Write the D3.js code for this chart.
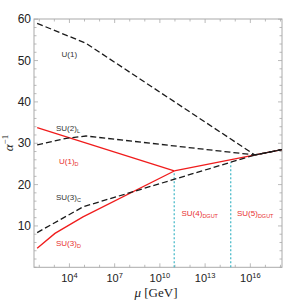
<!DOCTYPE html>
<html><head><meta charset="utf-8">
<script src="https://cdn.jsdelivr.net/npm/d3@7"></script>
<style>html,body{margin:0;padding:0;background:#fff;}svg{display:block;}</style>
</head><body>
<svg id="c" width="300" height="303"></svg>
<script>
// data: [log10(mu/GeV), alpha^-1]
const u1   = [[1.86,59.0],[5.09,54.2],[16.3,27.17],[18.09,28.45]];
const su2L = [[1.86,29.6],[3.0,30.55],[3.8,31.2],[5.1,31.75],[16.3,27.17],[18.09,28.45]];
const su3C = [[1.86,8.4],[4.92,14.65],[16.3,27.17],[18.09,28.45]];
const u1D  = [[1.86,33.8],[10.95,23.3]];
const su3D = [[1.86,4.6],[3.04,8.2],[4.9,12.2],[10.95,23.3]];
const su4D = [[10.95,23.3],[18.09,28.45]];
const thresholds = [[10.95,23.3],[14.7,25.4]];
const xMajor = [4,7,10,13,16];
const xMinor = d3.range(2,19);
const yMajor = [10,20,30,40,50,60];
const yMinor = d3.range(0,61,2);

const svg = d3.select("#c");
const L=34,R=282,T=19,B=267.3;
const x = d3.scaleLog().domain([Math.pow(10,1.65),Math.pow(10,18.1)]).range([L,R]);
const y = d3.scaleLinear().domain([0,60.05]).range([B,T]);
const X = e => x(Math.pow(10,e));
const line = d3.line().x(d=>X(d[0])).y(d=>y(d[1]));

// frame
svg.append("rect").attr("x",L).attr("y",T).attr("width",R-L).attr("height",B-T)
  .attr("fill","none").attr("stroke","#aaa").attr("stroke-width",1);
const tk = svg.append("g").attr("stroke","#aaa").attr("stroke-width",0.8);
xMinor.forEach(e=>{
  const len = xMajor.includes(e)?4:2.5;
  tk.append("line").attr("x1",X(e)).attr("x2",X(e)).attr("y1",B).attr("y2",B-len);
  tk.append("line").attr("x1",X(e)).attr("x2",X(e)).attr("y1",T).attr("y2",T+len);
});
yMinor.forEach(v=>{
  const len = yMajor.includes(v)?4:2.5;
  tk.append("line").attr("x1",L).attr("x2",L+len).attr("y1",y(v)).attr("y2",y(v));
  tk.append("line").attr("x1",R).attr("x2",R-len).attr("y1",y(v)).attr("y2",y(v));
});
// y tick labels
yMajor.forEach(v=>{
  svg.append("text").attr("x",31).attr("y",y(v)+4.2).attr("text-anchor","end")
    .attr("font-family","Liberation Sans, Arial, sans-serif").attr("font-size",12).attr("fill","#222").text(v);
});
// x tick labels
xMajor.forEach(e=>{
  const t = svg.append("text").attr("x",X(e)).attr("y",282).attr("text-anchor","middle")
    .attr("font-family","Liberation Sans, Arial, sans-serif").attr("font-size",11).attr("fill","#222");
  t.append("tspan").text("10");
  t.append("tspan").attr("dy",-4.5).attr("font-size",7.5).text(e);
});
// axis titles
const xt = svg.append("text").attr("x",156).attr("y",297).attr("text-anchor","middle")
  .attr("font-family","Liberation Serif, Times New Roman, serif").attr("font-size",13).attr("fill","#222");
xt.append("tspan").attr("font-style","italic").text("μ");
xt.append("tspan").text(" [GeV]");
const yt = svg.append("text").attr("transform","translate(13,143) rotate(-90)").attr("text-anchor","middle")
  .attr("font-family","Liberation Serif, Times New Roman, serif").attr("font-size",13).attr("fill","#222");
yt.append("tspan").attr("font-style","italic").text("α");
yt.append("tspan").attr("dy",-5).attr("font-size",9).text("−1");

// threshold lines
thresholds.forEach(d=>{
  svg.append("line").attr("x1",X(d[0])).attr("x2",X(d[0])).attr("y1",y(0)).attr("y2",y(d[1]))
    .attr("stroke","#3fb6c6").attr("stroke-width",1.2).attr("stroke-dasharray","2,2");
});
// red lines
[u1D,su3D,su4D].forEach(d=>{
  svg.append("path").attr("d",line(d)).attr("fill","none").attr("stroke","#f01c1c").attr("stroke-width",1.3);
});
// black dashed
[u1,su2L,su3C].forEach(d=>{
  svg.append("path").attr("d",line(d)).attr("fill","none").attr("stroke","#1a1a1a")
    .attr("stroke-width",1.3).attr("stroke-dasharray","6,3");
});

// labels
function lab(px,py,main,sub,col){
  const t = svg.append("text").attr("x",px).attr("y",py)
    .attr("font-family","Liberation Sans, Arial, sans-serif").attr("font-size",8).attr("fill",col);
  t.append("tspan").text(main);
  if(sub) t.append("tspan").attr("dy",2).attr("font-size",5.5).text(sub);
}
lab(61.5,56.5,"U(1)",null,"#333");
lab(56,130.5,"SU(2)","L","#333");
lab(59,163.5,"U(1)","D","#e83030");
lab(56,200,"SU(3)","C","#333");
lab(56,246,"SU(3)","D","#e83030");
lab(181.5,216,"SU(4)","DGUT","#e83030");
lab(237,216,"SU(5)","DGUT","#e83030");
</script>
</body></html>
